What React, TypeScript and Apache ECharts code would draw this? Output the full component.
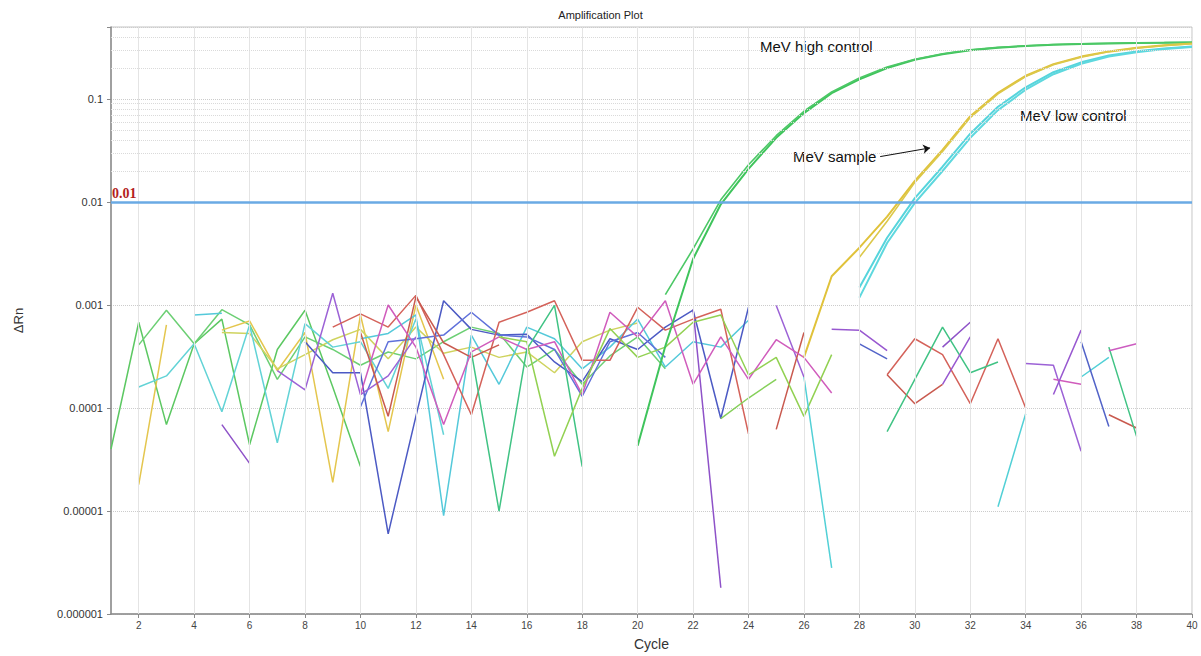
import React, { useEffect, useRef } from 'react';
import * as echarts from 'echarts';

type Pt = [number, number];

const cycles: number[] = Array.from({ length: 40 }, (_, i) => i + 1);
const xTickValues: number[] = cycles.filter((c) => c % 2 === 0);
const decades: number[] = [1e-6, 1e-5, 1e-4, 1e-3, 1e-2, 1e-1];

// Amplification curves (cycle, ΔRn)
const highControl1: Pt[] = [[20, 4.3e-5], [21, 4.0e-4], [22, 2.8e-3], [23, 9.5e-3], [24, 0.021], [25, 0.042], [26, 0.073], [27, 0.114], [28, 0.155], [29, 0.2], [30, 0.24], [31, 0.272], [32, 0.297], [33, 0.315], [34, 0.327], [35, 0.336], [36, 0.342], [37, 0.346], [38, 0.349], [39, 0.352], [40, 0.354]];
const highControl2: Pt[] = [[21, 1.26e-3], [22, 3.5e-3], [23, 0.0105], [24, 0.023], [25, 0.044], [26, 0.076], [27, 0.117], [28, 0.16], [29, 0.204], [30, 0.243], [31, 0.275], [32, 0.3], [33, 0.317], [34, 0.329], [35, 0.338], [36, 0.344], [37, 0.348], [38, 0.351], [39, 0.353], [40, 0.356]];
const sample1: Pt[] = [[26, 3.1e-4], [27, 1.9e-3], [28, 3.6e-3], [29, 7.2e-3], [30, 0.016], [31, 0.032], [32, 0.068], [33, 0.115], [34, 0.168], [35, 0.218], [36, 0.258], [37, 0.29], [38, 0.314], [39, 0.332], [40, 0.345]];
const sample2: Pt[] = [[28, 2.9e-3], [29, 6.5e-3], [30, 0.0155], [31, 0.031], [32, 0.066], [33, 0.112], [34, 0.165], [35, 0.215], [36, 0.255], [37, 0.287], [38, 0.312], [39, 0.33], [40, 0.344]];
const lowControl1: Pt[] = [[28, 1.48e-3], [29, 4.5e-3], [30, 0.0109], [31, 0.022], [32, 0.046], [33, 0.084], [34, 0.13], [35, 0.182], [36, 0.227], [37, 0.265], [38, 0.29], [39, 0.31], [40, 0.324]];
const lowControl2: Pt[] = [[28, 1.18e-3], [29, 4.0e-3], [30, 0.0098], [31, 0.02], [32, 0.042], [33, 0.078], [34, 0.123], [35, 0.174], [36, 0.22], [37, 0.258], [38, 0.285], [39, 0.305], [40, 0.32]];

// Background noise traces (negative values are missing on the log axis)
const noise01: Pt[] = [[1, 4.0e-5], [2, 6.8e-4], [3, 6.9e-5], [4, 4.2e-4], [5, 7.3e-4], [6, 4.4e-5], [7, 3.7e-4], [8, 8.9e-4], [9, 1.6e-4], [10, 2.7e-5]];
const noise02: Pt[] = [[2, 4.1e-4], [3, 8.9e-4], [4, 4.2e-4], [5, 9.0e-4], [6, 6.4e-4], [7, 1.9e-4], [8, 4.9e-4], [9, 3.7e-4], [10, 2.6e-4], [11, 3.5e-4], [12, 3.0e-4], [13, 4.4e-4], [14, 6.1e-4], [15, 5.3e-4], [16, 2.5e-4], [17, 3.7e-4], [18, 1.7e-4], [19, 3.2e-4], [20, 4.9e-4], [21, 2.4e-4]];
const noise03: Pt[] = [[2, 1.8e-5], [3, 6.4e-4], [5, 5.7e-4], [6, 7.0e-4], [7, 2.3e-4], [8, 5.4e-4], [9, 1.9e-5], [10, 8.0e-4], [11, 5.9e-5], [12, 1.0e-3], [13, 1.9e-4]];
const noise04: Pt[] = [[5, 5.4e-4], [6, 5.3e-4], [7, 2.4e-4], [8, 3.3e-4], [9, 4.6e-4], [10, 5.8e-4], [11, 3.0e-4], [12, 6.1e-4], [13, 3.4e-4], [14, 3.9e-4], [15, 3.1e-4], [16, 3.5e-4], [17, 2.2e-4], [18, 4.4e-4], [19, 5.7e-4], [20, 6.7e-4]];
const noise05: Pt[] = [[2, 1.6e-4], [3, 2.05e-4], [4, 4.2e-4], [5, 9.2e-5], [6, 6.4e-4], [7, 4.6e-5], [8, 6.6e-4], [9, 3.9e-4], [10, 4.4e-4], [11, 1.55e-4], [12, 7.3e-4], [13, 5.5e-5]];
const noise06: Pt[] = [[4, 8.0e-4], [5, 8.3e-4], [10, 4.7e-4], [11, 5.3e-4], [12, 8.0e-4], [13, 9.0e-6], [14, 5.1e-4], [15, 1.7e-4], [16, 6.1e-4], [17, 4.7e-4], [18, 2.4e-4], [19, 3.9e-4], [20, 7.3e-4], [21, 2.5e-4], [22, 4.4e-4], [23, 3.9e-4], [24, 7.1e-4]];
const noise07: Pt[] = [[8, 4.4e-4], [9, 2.2e-4], [10, 2.2e-4], [11, 6.0e-6], [12, 8.3e-5], [13, 1.1e-3], [14, 5.8e-4], [15, 5.1e-4], [16, 5.2e-4], [17, 2.8e-4], [18, 1.8e-4], [19, 4.7e-4], [20, 3.7e-4], [21, 6.1e-4], [22, 8.9e-4], [23, 7.9e-5], [24, 9.5e-4]];
const noise08: Pt[] = [[10, 1.03e-4], [11, 4.4e-4], [12, 4.7e-4], [13, 5.1e-4], [14, 8.5e-4], [15, 5.1e-4], [16, 4.9e-4], [17, 3.7e-4], [18, 1.3e-4], [19, 4.4e-4], [20, 5.4e-4], [21, 3.1e-4]];
const noise09: Pt[] = [[5, 6.9e-5], [6, 2.9e-5], [22, 9.1e-4], [23, 1.8e-6], [31, 3.9e-4], [32, 6.8e-4]];
const noise10: Pt[] = [[7, 2.3e-4], [8, 1.5e-4], [9, 1.3e-3], [10, 1.35e-4], [11, 2.05e-4], [12, 4.9e-4], [25, 9.9e-4], [26, 2.0e-4], [34, 2.7e-4], [35, 2.6e-4], [36, 3.8e-5]];
const noise11: Pt[] = [[9, 6.1e-4], [10, 8.2e-4], [11, 6.1e-4], [12, 1.24e-3], [13, 3.3e-4], [14, 8.6e-5], [15, 6.8e-4], [16, 8.5e-4], [17, 1.1e-3], [18, 2.9e-4], [19, 2.9e-4], [20, 9.5e-4], [21, 5.7e-4], [22, 7.3e-4], [23, 9.1e-4], [24, 5.6e-5], [29, 2.1e-4], [30, 4.7e-4], [31, 3.3e-4], [32, 1.1e-4], [33, 4.7e-4], [34, 1.0e-4]];
const noise12: Pt[] = [[10, 5.4e-4], [11, 8.3e-5], [12, 1.2e-3], [13, 4.3e-4], [14, 3.1e-4], [15, 4.1e-4], [25, 6.2e-5], [26, 5.4e-4], [29, 2.1e-4], [30, 1.1e-4], [31, 1.7e-4], [37, 8.6e-5], [38, 6.4e-5]];
const noise13: Pt[] = [[10, 1.35e-4], [11, 1.0e-3], [12, 3.9e-4], [13, 6.9e-5], [14, 3.5e-4], [15, 4.9e-4], [16, 3.7e-4], [17, 4.4e-4], [18, 1.35e-4], [19, 8.5e-4], [20, 4.9e-4], [21, 1.1e-3], [22, 1.7e-4], [23, 4.9e-4], [24, 1.9e-4], [25, 4.6e-4], [26, 3.1e-4], [27, 1.4e-4], [35, 1.9e-4], [36, 1.7e-4]];
const noise14: Pt[] = [[14, 3.5e-4], [15, 1.0e-5], [16, 3.7e-4], [17, 9.9e-4], [18, 2.7e-5], [29, 5.9e-5], [30, 1.9e-4], [31, 6.1e-4], [32, 2.2e-4], [33, 2.8e-4], [37, 3.9e-4], [38, 5.3e-5]];
const noise15: Pt[] = [[15, 4.9e-4], [16, 4.4e-4], [17, 3.4e-5], [18, 1.55e-4], [19, 5.9e-4], [20, 3.1e-4], [21, 3.9e-4], [22, 6.8e-4], [23, 8.0e-4], [24, 2.1e-4], [25, 3.1e-4], [26, 8.3e-5], [27, 3.3e-4]];
const noise16: Pt[] = [[26, 2.0e-4], [27, 2.8e-6], [33, 1.1e-5], [34, 8.8e-5], [36, 2.0e-4], [37, 3.1e-4]];
const noise17: Pt[] = [[28, 4.2e-4], [29, 3.0e-4], [36, 4.4e-4], [37, 6.6e-5]];
const noise18: Pt[] = [[27, 5.8e-4], [28, 5.7e-4], [29, 3.6e-4], [31, 1.7e-4], [32, 4.9e-4], [35, 1.35e-4], [36, 5.7e-4]];
const noise19: Pt[] = [[37, 3.6e-4], [38, 4.2e-4]];
const noise20: Pt[] = [[23, 7.9e-5], [24, 1.25e-4], [25, 1.9e-4]];

const noiseSets: { data: Pt[]; color: string }[] = [
  { data: noise01, color: '#5cc862' },
  { data: noise02, color: '#6ccf74' },
  { data: noise03, color: '#e4c64e' },
  { data: noise04, color: '#cfd35e' },
  { data: noise05, color: '#62d3d6' },
  { data: noise06, color: '#54c9da' },
  { data: noise07, color: '#4c5ac4' },
  { data: noise08, color: '#5f70da' },
  { data: noise09, color: '#8e52c8' },
  { data: noise10, color: '#9c62d6' },
  { data: noise11, color: '#d4625a' },
  { data: noise12, color: '#c95a4f' },
  { data: noise13, color: '#d05cbc' },
  { data: noise14, color: '#40c384' },
  { data: noise15, color: '#92d152' },
  { data: noise16, color: '#52d0d6' },
  { data: noise17, color: '#5263c8' },
  { data: noise18, color: '#9858d0' },
  { data: noise19, color: '#cc5cc0' },
  { data: noise20, color: '#86d05a' },
];

const toSeriesData = (pts: Pt[]) => {
  const m = new Map<number, number>(pts.map((p) => [p[0], p[1]] as [number, number]));
  return cycles.map((c) => (m.has(c) ? [c, m.get(c)] : [c, '-']));
};

const lineSeries = (name: string, pts: Pt[], color: string, width: number, z: number) => ({
  name,
  type: 'line',
  data: toSeriesData(pts),
  showSymbol: false,
  symbol: 'none',
  connectNulls: false,
  z,
  lineStyle: { color, width },
  itemStyle: { color },
  emphasis: { disabled: true },
});

const formatDecade = (v: number) => {
  const l = Math.log10(v);
  const e = Math.round(l);
  if (Math.abs(l - e) > 1e-6) return '';
  return e >= 0 ? String(v) : v.toFixed(-e);
};

export default function App() {
  const ref = useRef<HTMLDivElement>(null);
  useEffect(() => {
    document.body.style.margin = '0';
    const chart = echarts.init(ref.current!, undefined, { renderer: 'svg' });

    const minorY: number[] = [];
    decades.forEach((d) => {
      for (let k = 2; k <= 9; k++) {
        const v = k * d;
        if (v < 0.5) minorY.push(v);
      }
    });

    const series: any[] = [];
    series.push({
      type: 'line',
      data: [],
      silent: true,
      z: 1,
      markLine: {
        silent: true,
        symbol: ['none', 'none'],
        label: { show: false },
        emphasis: { disabled: true },
        data: [
          ...xTickValues.map((x) => ({ xAxis: x, lineStyle: { color: '#e4e4e4', type: 'solid', width: 1 } })),
          ...minorY.map((y) => ({ yAxis: y, lineStyle: { color: '#dadada', type: 'dotted', width: 1 } })),
        ],
      },
    });
    noiseSets.forEach((n, i) => series.push(lineSeries('noise' + (i + 1), n.data, n.color, 1.5, 2)));
    series.push(lineSeries('MeV high control 1', highControl1, '#3fc45c', 2, 3));
    series.push(lineSeries('MeV high control 2', highControl2, '#4cc866', 1.6, 3));
    series.push(lineSeries('MeV sample 1', sample1, '#e0c23a', 2, 3));
    series.push(lineSeries('MeV sample 2', sample2, '#dcc84a', 1.6, 3));
    series.push(lineSeries('MeV low control 1', lowControl1, '#56d4dc', 2, 3));
    series.push(lineSeries('MeV low control 2', lowControl2, '#5ed8de', 2, 3));
    series.push({
      type: 'line',
      data: [],
      silent: true,
      z: 5,
      markLine: {
        silent: true,
        symbol: ['none', 'none'],
        emphasis: { disabled: true },
        lineStyle: { color: '#6aaae4', width: 2.5, type: 'solid' },
        label: {
          show: true,
          position: 'insideStartTop',
          formatter: '0.01',
          color: '#b41e1e',
          fontFamily: 'Liberation Serif, DejaVu Serif, serif',
          fontWeight: 'bold',
          fontSize: 14,
          distance: [1, 1],
        },
        data: [{ yAxis: 0.01 }],
      },
    });
    series.push({
      type: 'line',
      data: [],
      silent: true,
      z: 6,
      markLine: {
        silent: true,
        symbol: ['none', 'arrow'],
        symbolSize: 7,
        emphasis: { disabled: true },
        label: { show: false },
        lineStyle: { color: '#111111', width: 1, type: 'solid' },
        data: [[{ coord: [28.75, 0.0276] }, { coord: [30.55, 0.0335] }]],
      },
    });

    const annFont = 'Liberation Sans, Arial, sans-serif';
    chart.setOption({
      animation: false,
      backgroundColor: '#ffffff',
      textStyle: { fontFamily: 'Liberation Sans, Arial, sans-serif' },
      title: {
        text: 'Amplification Plot',
        left: 'center',
        top: 4,
        textStyle: { fontSize: 11, fontWeight: 'normal', color: '#222222' },
      },
      grid: {
        left: 111,
        right: 9,
        top: 27,
        bottom: 36,
        show: true,
        borderColor: '#c4c4c4',
        borderWidth: 1,
        backgroundColor: '#ffffff',
      },
      xAxis: {
        type: 'value',
        min: 1,
        max: 40,
        name: 'Cycle',
        nameLocation: 'middle',
        nameGap: 23,
        nameTextStyle: { fontSize: 14, color: '#333333' },
        axisLine: { onZero: false, lineStyle: { color: '#8a8a8a', width: 1.5 } },
        axisTick: { show: true, length: 4, customValues: xTickValues, lineStyle: { color: '#8a8a8a' } },
        axisLabel: { fontSize: 10, color: '#444444', margin: 6, customValues: xTickValues },
        splitLine: { show: false },
      },
      yAxis: {
        type: 'log',
        logBase: 10,
        min: 1e-6,
        max: 0.5,
        name: 'ΔRn',
        nameLocation: 'middle',
        nameGap: 86,
        nameRotate: 90,
        nameTextStyle: { fontSize: 13, color: '#333333' },
        axisLine: { show: true, lineStyle: { color: '#8a8a8a', width: 1.5 } },
        axisTick: { show: true, length: 4, lineStyle: { color: '#8a8a8a' } },
        axisLabel: { fontSize: 11, color: '#333333', margin: 8, formatter: formatDecade },
        splitLine: { show: true, lineStyle: { color: '#cccccc', type: 'dotted' } },
        minorTick: { show: false },
      },
      graphic: [
        { type: 'text', left: 760, top: 39, style: { text: 'MeV high control', fontSize: 15, fill: '#111111', fontFamily: annFont } },
        { type: 'text', left: 1020, top: 108, style: { text: 'MeV low control', fontSize: 15, fill: '#111111', fontFamily: annFont } },
        { type: 'text', left: 793, top: 149, style: { text: 'MeV sample', fontSize: 15, fill: '#111111', fontFamily: annFont } },
      ],
      series,
    });
    return () => chart.dispose();
  }, []);
  return <div ref={ref} style={{ width: 1201, height: 656 }} />;
}
